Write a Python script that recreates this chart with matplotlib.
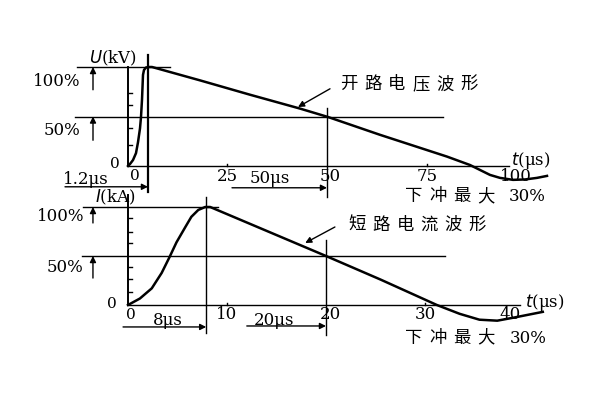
import matplotlib
matplotlib.use("Agg")
import matplotlib.pyplot as plt
from matplotlib.transforms import offset_copy

plt.rcParams["font.family"] = ["DejaVu Serif", "Noto Sans CJK SC"]

# open-circuit voltage wave (t in us, value in % of peak)
u_t = [0.25, 0.75, 1.5, 2.25, 2.75, 3.25, 3.5, 3.75, 3.9, 4.0, 4.25, 4.75, 5.5, 6.25,
       18.25, 30.75, 43.25, 50.25, 63.25, 80.0, 85.75, 88.25, 90.75, 93.25, 96.5,
       99.5, 102.5, 105.0]
u_p = [0, 2, 6, 13, 24, 38, 49.5, 67, 82, 92, 97, 99.5, 100, 100,
       86.5, 72, 58, 49.5, 31.5, 9.5, 1, -4, -9, -12, -14,
       -13.6, -12, -10]
u_inner_ticks = [74, 62, 38, 21]

# short-circuit current wave
i_t = [0, 1.2, 2.4, 3.4, 4.2, 4.9, 5.8, 6.4, 7.1, 7.8, 8.3, 20, 25.5, 31.2, 33.5,
       35.5, 37.3, 38.9, 41.9]
i_p = [0, 6.6, 17, 32.7, 49, 64, 79.7, 90, 97, 100, 100, 50, 26, 0, -9,
       -15, -16, -13, -7]
i_ticks = [88.8, 74.5, 63.3, 38.8, 26.5, 13.3]

u_xticks = [25, 50, 75, 100]
i_xticks = [10, 20, 30, 40]

fig = plt.figure(figsize=(6, 4), dpi=100)
ax1 = fig.add_axes([127 / 600, 234 / 400, 400 / 600, 99 / 400])
ax2 = fig.add_axes([128 / 600, 95 / 400, 396 / 600, 98 / 400])
for ax in (ax1, ax2):
    ax.set_axis_off()
ax1.set_xlim(0, 100)
ax1.set_ylim(0, 100)
ax2.set_xlim(0, 40)
ax2.set_ylim(0, 100)

K = "black"
LW = 1.0


def hline(ax, y, x0, x1, lw=LW):
    ax.plot([x0, x1], [y, y], color=K, lw=lw, clip_on=False)


def vline(ax, x, y0, y1, lw=LW):
    ax.plot([x, x], [y0, y1], color=K, lw=lw, clip_on=False)


def arrow(ax, start, end, lw=1.0):
    ax.annotate("", xy=end, xytext=start, annotation_clip=False,
                arrowprops=dict(arrowstyle="-|>", color=K, lw=lw,
                                mutation_scale=9, shrinkA=0, shrinkB=0))


def spaced(ax, x, y, s, step=24, size=12.5):
    for i, ch in enumerate(s):
        tr = offset_copy(ax.transData, fig=fig, x=i * step, y=0, units="dots")
        ax.text(x, y, ch, transform=tr, fontsize=size, ha="left",
                va="center", clip_on=False)


def txt(ax, x, y, s, ha="center", size=12, **kw):
    ax.text(x, y, s, ha=ha, va="center", fontsize=size, clip_on=False, **kw)


# ---------------- top panel: voltage ----------------
ax1.plot(u_t, u_p, color=K, lw=1.8, clip_on=False)
vline(ax1, 5.25, 112, -26, lw=1.6)
vline(ax1, 0.25, 0, 100, lw=1.4)
for p in u_inner_ticks:
    hline(ax1, p, 0.25, 1.3)
hline(ax1, 100, -12.5, 10.75)
hline(ax1, 50, -13, 79)
hline(ax1, 0, 0.25, 95.5)
for t in (25, 75):
    vline(ax1, t, 0, 2.5)
vline(ax1, 50, 58.6, -31)
arrow(ax1, (-8.5, 77), (-8.5, 100))
arrow(ax1, (-8.5, 26), (-8.5, 50))
arrow(ax1, (-15.5, -21), (5.25, -21))
arrow(ax1, (26.25, -22), (50, -22))
arrow(ax1, (50.75, 78), (42.75, 59.6))

txt(ax1, -11.75, 85, "100%", ha="right")
txt(ax1, -11.75, 36, "50%", ha="right")
txt(ax1, -3.5, 109, "$U$(kV)")
txt(ax1, -3, 2, "0", size=11)
txt(ax1, 2, -10, "0", size=11)
txt(ax1, -10.25, -14, "1.2μs")
for t, lab in zip(u_xticks, ["25", "50", "75", "100"]):
    txt(ax1, t + (0.75 if t == 50 else -2.75 if t == 100 else 0), -11, lab)
txt(ax1, 35.75, -13, "50μs")
txt(ax1, 101, 6, "$t$(μs)")
spaced(ax1, 53.25, 82, "开路电压波形")
spaced(ax1, 69.5, -31.3, "下冲最大")
txt(ax1, 95.5, -31.3, "30%", ha="left")

# ---------------- bottom panel: current ----------------
ax2.plot(i_t, i_p, color=K, lw=1.8, clip_on=False)
vline(ax2, 0, 0, 112, lw=1.4)
for p in i_ticks:
    hline(ax2, p, 0, 0.4)
hline(ax2, 100, -4.5, 9.1)
hline(ax2, 50, -4.65, 32)
hline(ax2, 0, 0, 39.6)
for t in (10, 30):
    vline(ax2, t, 0, 2.5)
vline(ax2, 7.9, 110, -28.6)
vline(ax2, 20, 66, -30.6)
arrow(ax2, (-3.54, 83.7), (-3.54, 100))
arrow(ax2, (-3.54, 27.5), (-3.54, 50))
arrow(ax2, (-0.5, -22.4), (7.9, -22.4))
arrow(ax2, (12, -21.4), (20, -21.4))
arrow(ax2, (20.9, 79.6), (17.9, 63.3))

txt(ax2, -4.35, 90, "100%", ha="right")
txt(ax2, -4.5, 38, "50%", ha="right")
txt(ax2, -1.3, 110, "$I$(kA)")
txt(ax2, -1.6, 1, "0", size=11)
txt(ax2, 0.3, -10, "0", size=11)
txt(ax2, 4.0, -16.3, "8μs")
for t, lab in zip(i_xticks, ["10", "20", "30", "40"]):
    txt(ax2, t + (0.4 if t == 20 else -1.4 if t == 40 else 0), -10, lab)
txt(ax2, 14.75, -16.3, "20μs")
txt(ax2, 42.1, 3, "$t$(μs)")
spaced(ax2, 22.3, 81.6, "短路电流波形")
spaced(ax2, 28, -33.7, "下冲最大")
txt(ax2, 38.6, -33.7, "30%", ha="left")

fig.savefig("out.png", dpi=100)
